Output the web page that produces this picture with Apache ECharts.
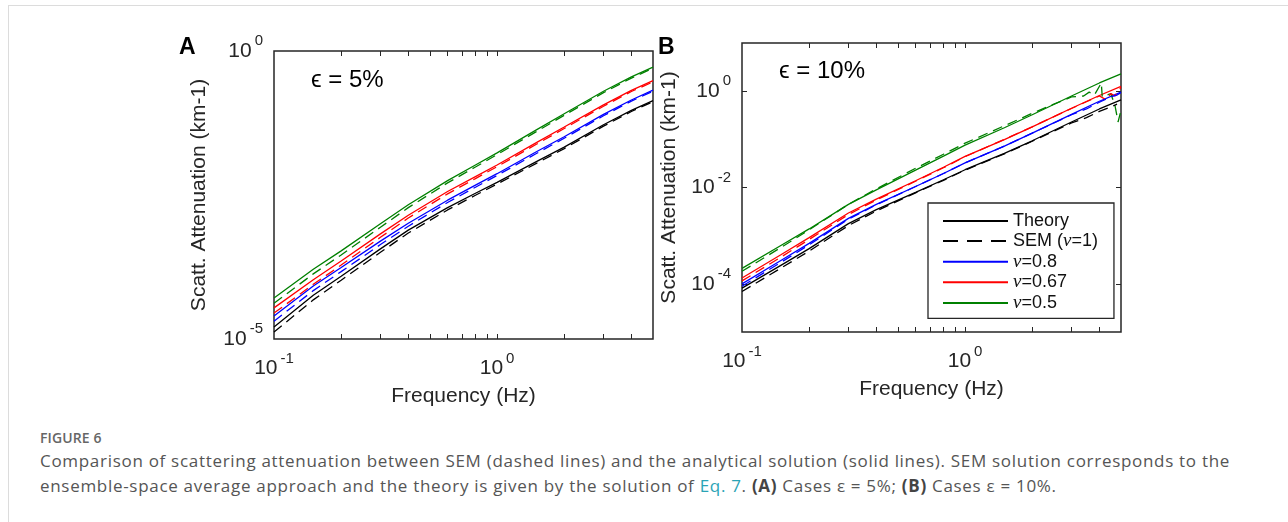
<!DOCTYPE html>
<html>
<head>
<meta charset="utf-8">
<script src="https://cdn.jsdelivr.net/npm/echarts@6.0.0/dist/echarts.min.js"></script>
<style>
  html, body { margin: 0; padding: 0; background: #fff; }
  #frame { position: absolute; left: 8px; top: 5px; width: 1280px; height: 517px; border-top: 1px solid #dcdcdc; border-left: 1px solid #dcdcdc; z-index: 2; pointer-events: none; }
  #chart { position: absolute; left: 0; top: 0; width: 1288px; height: 412px; }
  #cap { position: absolute; left: 40px; top: 428px; font-family: "Open Sans", "Noto Sans", sans-serif; color: #555; }
  #cap .fig { font-size: 14px; font-weight: 600; color: #666; letter-spacing: 0.1px; }
  #cap .ln { font-size: 17px; letter-spacing: 0.7px; line-height: 25px; white-space: nowrap; }
  #cap .eq { color: #2aa3b5; }
  #cap b { color: #444; }
</style>
</head>
<body>
<div id="frame"></div>
<div id="chart"></div>
<div id="cap">
  <div class="fig">FIGURE 6</div>
  <div class="ln" style="margin-top:1px">Comparison of scattering attenuation between SEM (dashed lines) and the analytical solution (solid lines). SEM solution corresponds to the</div>
  <div class="ln">ensemble-space average approach and the theory is given by the solution of <span class="eq">Eq. 7</span>. <b>(A)</b> Cases ε = 5%; <b>(B)</b> Cases ε = 10%.</div>
</div>
<script>
// ---------- data ----------
const freq = [0.1, 0.15, 0.2, 0.3, 0.4, 0.6, 0.8, 1, 1.5, 2, 3, 4, 5];

// Panel A (epsilon = 5%)
const A_theory   = [1.62e-5, 5.75e-5, 1.23e-4, 3.67e-4, 7.76e-4, 1.91e-3, 3.39e-3, 5.25e-3, 1.20e-2, 2.14e-2, 5.25e-2, 9.33e-2, 0.138];
const A_sem1     = [1.32e-5, 4.78e-5, 1.05e-4, 3.20e-4, 6.91e-4, 1.74e-3, 3.13e-3, 4.90e-3, 1.12e-2, 2.02e-2, 4.96e-2, 8.91e-2, 0.132];
const A_nu08     = [2.51e-5, 8.32e-5, 1.74e-4, 5.01e-4, 1.02e-3, 2.57e-3, 4.68e-3, 7.41e-3, 1.78e-2, 3.24e-2, 7.94e-2, 0.141, 0.209];
const A_nu08sem  = [2.04e-5, 6.92e-5, 1.48e-4, 4.36e-4, 9.09e-4, 2.34e-3, 4.32e-3, 6.91e-3, 1.66e-2, 3.06e-2, 7.50e-2, 0.135, 0.200];
const A_nu067    = [3.47e-5, 1.07e-4, 2.26e-4, 6.68e-4, 1.41e-3, 3.63e-3, 6.61e-3, 1.05e-2, 2.57e-2, 4.79e-2, 0.116, 0.207, 0.305];
const A_nu067sem = [2.82e-5, 8.90e-5, 1.92e-4, 5.82e-4, 1.26e-3, 3.31e-3, 6.10e-3, 9.80e-3, 2.40e-2, 4.52e-2, 0.110, 0.198, 0.291];
const A_nu05     = [5.13e-5, 1.62e-4, 3.39e-4, 1.00e-3, 2.14e-3, 5.62e-3, 1.05e-2, 1.70e-2, 4.27e-2, 8.13e-2, 0.200, 0.355, 0.525];
const A_nu05sem  = [4.17e-5, 1.35e-4, 2.88e-4, 8.71e-4, 1.91e-3, 5.13e-3, 9.69e-3, 1.59e-2, 3.98e-2, 7.67e-2, 0.189, 0.339, 0.501];

// Panel B (epsilon = 10%)
const B_theory   = [8.13e-5, 2.45e-4, 5.37e-4, 1.78e-3, 3.47e-3, 7.94e-3, 1.45e-2, 2.34e-2, 5.13e-2, 9.33e-2, 0.229, 0.427, 0.661];
const B_nu08     = [1.00e-4, 3.09e-4, 6.92e-4, 2.29e-3, 4.47e-3, 1.05e-2, 1.95e-2, 3.24e-2, 7.24e-2, 0.135, 0.331, 0.617, 0.955];
const B_nu067    = [1.32e-4, 4.07e-4, 9.12e-4, 2.95e-3, 5.75e-3, 1.38e-2, 2.63e-2, 4.42e-2, 9.89e-2, 0.182, 0.442, 0.813, 1.26];
const B_nu05     = [2.09e-4, 6.31e-4, 1.38e-3, 4.47e-3, 8.91e-3, 2.29e-2, 4.47e-2, 7.59e-2, 0.174, 0.324, 0.794, 1.48, 2.29];

// SEM curves of panel B (noisy near the high-frequency end)
const B_semFreq    = [0.1, 0.15, 0.2, 0.3, 0.4, 0.6, 0.8, 1, 1.5, 2, 3, 3.5, 4, 4.5, 4.8];
const B_sem1       = [6.92e-5, 2.14e-4, 4.79e-4, 1.62e-3, 3.24e-3, 7.76e-3, 1.41e-2, 2.29e-2, 5.01e-2, 9.12e-2, 0.219, 0.282, 0.380, 0.468, 0.537];
const B_nu08semF   = [0.1, 0.15, 0.2, 0.3, 0.4, 0.6, 0.8, 1, 1.5, 2, 3, 3.5, 4, 4.5, 4.8, 5];
const B_nu08sem    = [8.91e-5, 2.82e-4, 6.46e-4, 2.19e-3, 4.37e-3, 1.05e-2, 1.95e-2, 3.24e-2, 7.24e-2, 0.135, 0.324, 0.427, 0.589, 0.759, 0.832, 0.933];
const B_nu067semF  = [0.1, 0.15, 0.2, 0.3, 0.4, 0.6, 0.8, 1, 1.5, 2, 3, 3.5, 4, 4.3, 4.5, 4.7, 5];
const B_nu067sem   = [1.15e-4, 3.63e-4, 8.32e-4, 2.75e-3, 5.50e-3, 1.35e-2, 2.57e-2, 4.37e-2, 0.100, 0.182, 0.437, 0.603, 0.794, 0.661, 0.891, 0.794, 1.20];
const B_nu05semF   = [0.1, 0.15, 0.2, 0.3, 0.4, 0.6, 0.8, 1, 1.5, 2, 2.5, 3, 3.4, 3.6, 3.8, 4.08, 4.12, 4.5, 4.7, 4.85, 5];
const B_nu05sem    = [1.82e-4, 5.75e-4, 1.32e-3, 4.47e-3, 9.33e-3, 2.51e-2, 4.90e-2, 8.32e-2, 0.191, 0.347, 0.537, 0.759, 0.794, 0.955, 0.832, 1.48, 0.759, 0.891, 0.501, 0.229, 0.398];

// tick positions / labels
const xLabelVals = [0.1, 1];
const xTickVals  = [0.2, 0.3, 0.4, 0.5, 0.6, 0.7, 0.8, 0.9, 1, 2, 3, 4];
const yLabelA    = [1e-5, 1];
const yLabelB    = [1e-4, 1e-2, 1];
const legendNames = ['Theory', 'SEM (ν=1)', 'ν=0.8', 'ν=0.67', 'ν=0.5'];

// ---------- chart ----------
const FONT = '"Liberation Sans", Arial, Helvetica, sans-serif';
const pairs = (xs, ys) => xs.map((x, i) => [x, ys[i]]);
const powLabel = v => {
  const e = Math.round(Math.log10(v));
  return '{b|10}{e|' + (e < 0 ? '-' + (-e) : e) + '}';
};
const rich = {
  b: { fontSize: 21, fontFamily: FONT, color: '#262626' },
  e: { fontSize: 15, fontFamily: FONT, color: '#262626', padding: [0, 0, 20, 3] }
};
const COL = { k: '#000000', b: '#0000ff', r: '#ff0000', g: '#008000' };

function xAxisPair(gi) {
  return [
    {
      type: 'log', logBase: 10, gridIndex: gi, min: 0.1, max: 5, position: 'bottom',
      name: 'Frequency (Hz)', nameLocation: 'middle', nameGap: 47,
      nameTextStyle: { fontSize: 21, fontFamily: FONT, color: '#262626' },
      axisLine: { show: false },
      axisTick: { show: true, inside: true, length: 5, customValues: xTickVals, lineStyle: { color: '#262626', width: 1 } },
      axisLabel: { customValues: xLabelVals, formatter: powLabel, rich: rich, margin: 12 },
      splitLine: { show: false }, minorTick: { show: false }
    },
    {
      type: 'log', logBase: 10, gridIndex: gi, min: 0.1, max: 5, position: 'top',
      axisLine: { show: false },
      axisTick: { show: true, inside: true, length: 5, customValues: xTickVals, lineStyle: { color: '#262626', width: 1 } },
      axisLabel: { show: false }, splitLine: { show: false }
    }
  ];
}

const xAxes = xAxisPair(0).concat(xAxisPair(1));
const yAxes = [
  {
    type: 'log', logBase: 10, gridIndex: 0, min: 1e-5, max: 1, position: 'left',
    name: 'Scatt. Attenuation (km-1)', nameLocation: 'middle', nameGap: 64, nameRotate: 90,
    nameTextStyle: { fontSize: 21, fontFamily: FONT, color: '#262626' },
    axisLine: { show: false }, axisTick: { show: false },
    axisLabel: { customValues: yLabelA, formatter: powLabel, rich: rich, margin: 11 },
    splitLine: { show: false }
  },
  {
    type: 'log', logBase: 10, gridIndex: 1, min: 1e-5, max: 10, position: 'left',
    name: 'Scatt. Attenuation (km-1)', nameLocation: 'middle', nameGap: 62, nameRotate: 90,
    nameTextStyle: { fontSize: 21, fontFamily: FONT, color: '#262626' },
    axisLine: { show: false },
    axisTick: { show: true, inside: true, length: 5, customValues: yLabelB, lineStyle: { color: '#262626', width: 1 } },
    axisLabel: { customValues: yLabelB, formatter: powLabel, rich: rich, margin: 11 },
    splitLine: { show: false }
  },
  {
    type: 'log', logBase: 10, gridIndex: 1, min: 1e-5, max: 10, position: 'right',
    axisLine: { show: false },
    axisTick: { show: true, inside: true, length: 5, customValues: yLabelB, lineStyle: { color: '#262626', width: 1 } },
    axisLabel: { show: false }, splitLine: { show: false }
  }
];

function line(name, xi, yi, data, color, dashed) {
  return {
    type: 'line', name: name, xAxisIndex: xi, yAxisIndex: yi, data: data,
    symbol: 'none', showSymbol: false, smooth: false, silent: true, z: dashed ? 3 : 2,
    lineStyle: { color: color, width: 1.3, type: dashed ? [10, 6] : 'solid' },
    itemStyle: { color: color }
  };
}

const series = [
  // panel A
  line('ν=0.5',  0, 0, pairs(freq, A_nu05),  COL.g, false),
  line('A sem 0.5', 0, 0, pairs(freq, A_nu05sem), COL.g, true),
  line('ν=0.67', 0, 0, pairs(freq, A_nu067), COL.r, false),
  line('A sem 0.67', 0, 0, pairs(freq, A_nu067sem), COL.r, true),
  line('ν=0.8',  0, 0, pairs(freq, A_nu08),  COL.b, false),
  line('A sem 0.8', 0, 0, pairs(freq, A_nu08sem), COL.b, true),
  line('Theory', 0, 0, pairs(freq, A_theory), COL.k, false),
  line('SEM (ν=1)', 0, 0, pairs(freq, A_sem1), COL.k, true),
  // panel B
  line('ν=0.5',  2, 1, pairs(freq, B_nu05),  COL.g, false),
  line('B sem 0.5', 2, 1, pairs(B_nu05semF, B_nu05sem), COL.g, true),
  line('ν=0.67', 2, 1, pairs(freq, B_nu067), COL.r, false),
  line('B sem 0.67', 2, 1, pairs(B_nu067semF, B_nu067sem), COL.r, true),
  line('ν=0.8',  2, 1, pairs(freq, B_nu08),  COL.b, false),
  line('B sem 0.8', 2, 1, pairs(B_nu08semF, B_nu08sem), COL.b, true),
  line('Theory', 2, 1, pairs(freq, B_theory), COL.k, false),
  line('SEM (ν=1)', 2, 1, pairs(B_semFreq, B_sem1), COL.k, true)
];

const chart = echarts.init(document.getElementById('chart'), null, { renderer: 'canvas' });
chart.setOption({
  animation: false,
  backgroundColor: 'transparent',
  textStyle: { fontFamily: FONT },
  grid: [
    { left: 274, top: 51, width: 379, height: 288, show: true, borderColor: '#262626', borderWidth: 1.5, backgroundColor: 'transparent' },
    { left: 742, top: 43, width: 379, height: 289, show: true, borderColor: '#262626', borderWidth: 1.5, backgroundColor: 'transparent' }
  ],
  xAxis: xAxes,
  yAxis: yAxes,
  legend: {
    data: legendNames.map(n => n === 'SEM (ν=1)'
      ? { name: n, lineStyle: { type: [15, 9], width: 2 } }
      : { name: n }),
    orient: 'vertical', left: 928, top: 203,
    itemWidth: 65, itemHeight: 14, itemGap: 1.6,
    padding: [9, 16, 6, 14],
    backgroundColor: '#fff', borderColor: '#262626', borderWidth: 1.3, borderRadius: 0,
    selectedMode: false,
    lineStyle: { width: 2 },
    itemStyle: { opacity: 0 },
    textStyle: {
      fontSize: 18, fontFamily: FONT, color: '#111',
      rich: { i: { fontSize: 19, fontFamily: '"Liberation Serif", serif', fontStyle: 'italic', color: '#111' } }
    },
    formatter: n => n.replace('ν', '{i|ν}')
  },
  graphic: [
    { type: 'text', left: 179, top: 36, style: { text: 'A', font: 'bold 23px ' + FONT, fill: '#000' } },
    { type: 'text', left: 658, top: 36, style: { text: 'B', font: 'bold 23px ' + FONT, fill: '#000' } },
    { type: 'text', left: 311, top: 68, style: { text: 'ϵ = 5%', font: '24px ' + FONT, fill: '#000' } },
    { type: 'text', left: 779, top: 59, style: { text: 'ϵ = 10%', font: '24px ' + FONT, fill: '#000' } }
  ],
  series: series
});
</script>
</body>
</html>
